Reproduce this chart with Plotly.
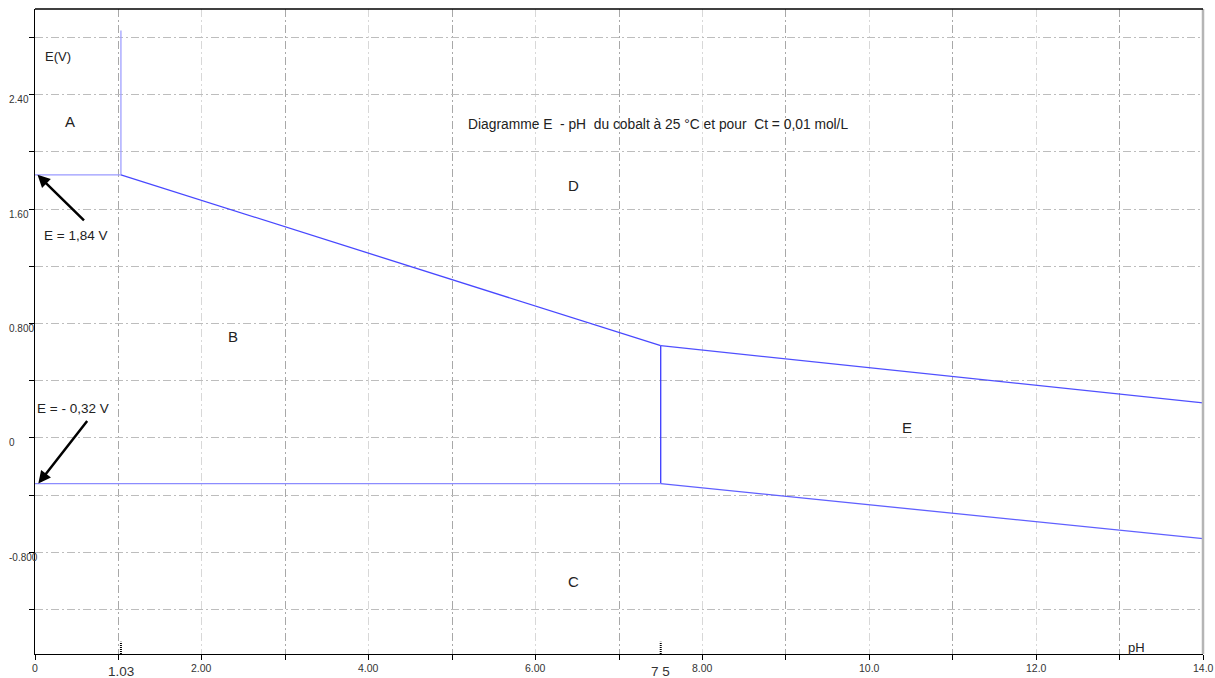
import plotly.graph_objects as go

# ---- data (boundary lines of the E-pH diagram) ----
pH_AB = [0, 1.03]
E_AB = [1.84, 1.84]
pH_AD = [1.03, 1.03]
E_AD = [1.84, 2.85]
pH_BD = [1.03, 7.5]
E_BD = [1.84, 0.645]
pH_BE = [7.5, 7.5]
E_BE = [0.645, -0.32]
pH_DE = [7.5, 14]
E_DE = [0.645, 0.245]
pH_BC = [0, 7.5]
E_BC = [-0.32, -0.32]
pH_CE = [7.5, 14]
E_CE = [-0.32, -0.705]

x_tickvals = [0, 2, 4, 6, 8, 10, 12, 14]
x_ticktext = ["0", "2.00", "4.00", "6.00", "8.00", "10.0", "12.0", "14.0"]
y_tickvals = [2.4, 1.6, 0.8, 0, -0.8]
y_ticktext = ["2.40", "1.60", "0.800", "0", "-0.800"]
special_ph = [1.03, 7.5]
special_ph_text = ["1.03", "7 5"]

region_labels = ["A", "B", "C", "D", "E"]
region_x = [0.42, 2.37, 6.46, 6.45, 10.45]
region_y = [2.21, 0.707, -1.008, 1.763, 0.07]

FONT = "Liberation Sans, Arial, sans-serif"

fig = go.Figure()

segments = [
    (pH_AB, E_AB, "#9a9aff"),
    (pH_AD, E_AD, "#a0a0ff"),
    (pH_BD, E_BD, "#4848ff"),
    (pH_BE, E_BE, "#3a3aff"),
    (pH_DE, E_DE, "#5050ff"),
    (pH_BC, E_BC, "#8c8cff"),
    (pH_CE, E_CE, "#6060ff"),
]
for xs, ys, c in segments:
    fig.add_trace(go.Scatter(x=xs, y=ys, mode="lines",
                             line=dict(color=c, width=1.3),
                             showlegend=False, hoverinfo="skip"))

ann = []
# y tick labels (left aligned like the reference)
for v, t in zip(y_tickvals, y_ticktext):
    ann.append(dict(x=0, xref="paper", y=v, yref="y", text=t, showarrow=False,
                    xanchor="left", xshift=-28, yshift=-5,
                    font=dict(size=10, color="#333", family=FONT)))
# x tick labels
for v, t in zip(x_tickvals, x_ticktext):
    ann.append(dict(x=v, xref="x", y=0, yref="paper", text=t, showarrow=False,
                    yanchor="top", yshift=-6,
                    font=dict(size=10.5, color="#333", family=FONT)))
# special pH labels
for v, t in zip(special_ph, special_ph_text):
    ann.append(dict(x=v, xref="x", y=0, yref="paper", text=t, showarrow=False,
                    yanchor="top", yshift=-8,
                    font=dict(size=13.5, color="#333", family=FONT)))
# region letters
for t, xv, yv in zip(region_labels, region_x, region_y):
    ann.append(dict(x=xv, y=yv, text=t, showarrow=False,
                    font=dict(size=15, color="#222", family=FONT)))
# title and axis names
ann.append(dict(x=7.47, y=2.19, text="Diagramme E  - pH  du cobalt à 25 °C et pour  Ct = 0,01 mol/L",
                showarrow=False, font=dict(size=13.8, color="#222", family=FONT)))
ann.append(dict(x=0.28, y=2.67, text="E(V)", showarrow=False,
                font=dict(size=13, color="#222", family=FONT)))
ann.append(dict(x=13.2, y=-1.463, text="pH", showarrow=False,
                font=dict(size=13, color="#222", family=FONT)))
# arrows and labels
ann.append(dict(x=0.48, y=1.414, text="E = 1,84 V", showarrow=False,
                font=dict(size=13.5, color="#222", family=FONT)))
ann.append(dict(x=0.03, y=1.84, text="", showarrow=True, ax=48, ay=47,
                arrowhead=2, arrowsize=1, arrowwidth=2.5, arrowcolor="black"))
ann.append(dict(x=0.455, y=0.203, text="E = - 0,32 V", showarrow=False,
                font=dict(size=13.5, color="#222", family=FONT)))
ann.append(dict(x=0.04, y=-0.32, text="", showarrow=True, ax=50, ay=-64,
                arrowhead=2, arrowsize=1, arrowwidth=2.5, arrowcolor="black"))

shapes = []
for v in special_ph:
    shapes.append(dict(type="line", xref="x", yref="paper", x0=v, x1=v, y0=0, y1=0.019,
                       line=dict(color="black", width=2, dash="1px,1px")))
shapes.append(dict(type="line", xref="paper", yref="paper", x0=1, x1=1, y0=0, y1=1,
                   line=dict(color="#b5b5b5", width=2.5)))
shapes.append(dict(type="line", xref="paper", yref="paper", x0=0, x1=1, y0=1, y1=1,
                   line=dict(color="black", width=1.5)))

DASH = "8px,3px,2px,3px"
fig.update_layout(
    width=1215, height=678,
    margin=dict(l=35, r=12, t=9, b=24),
    paper_bgcolor="white", plot_bgcolor="white",
    font=dict(family=FONT),
    annotations=ann, shapes=shapes,
    xaxis=dict(range=[0, 14], tickvals=x_tickvals, showticklabels=False,
               ticks="outside", ticklen=5, tickcolor="black",
               showline=True, linecolor="black", linewidth=1,
               showgrid=True, gridcolor="#d8d8d8", griddash=DASH, gridwidth=1,
               zeroline=False,
               minor=dict(dtick=1, tick0=0, ticks="outside", ticklen=5, tickcolor="black",
                          showgrid=True, gridcolor="#a8a8a8", griddash=DASH, gridwidth=1)),
    yaxis=dict(range=[-1.512, 3.0], tick0=0, dtick=0.4, ticks="outside", ticklen=5,
               tickcolor="black", showticklabels=False,
               showline=True, linecolor="black", linewidth=1,
               showgrid=True, gridcolor="#bdbdbd", griddash=DASH, gridwidth=1,
               zeroline=False),
)

fig.write_html("out.html", config={"displayModeBar": False},
               post_script="document.body.style.margin='0';document.body.style.overflow='hidden';")
